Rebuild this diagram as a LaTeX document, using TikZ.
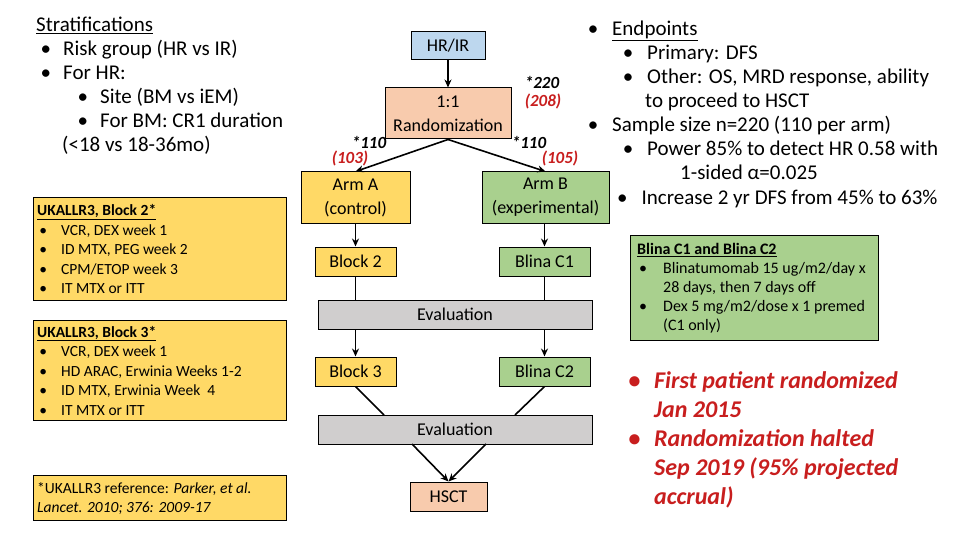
\documentclass[tikz,border=0pt]{standalone}
\usepackage{fontspec}
\setmainfont{Carlito}
\usepackage{enumitem}
\usetikzlibrary{arrows.meta}
\definecolor{cblue}{RGB}{189,215,238}
\definecolor{csalmon}{RGB}{248,203,173}
\definecolor{cyel}{RGB}{255,217,102}
\definecolor{cgreen}{RGB}{169,208,142}
\definecolor{cgray}{RGB}{208,206,206}
\definecolor{cred}{RGB}{200,30,30}
\setlist[itemize]{label=\textbullet,nosep,leftmargin=1.3em}
\begin{document}
\begin{tikzpicture}[x=1pt,y=-1pt,
  box/.style={draw=black,line width=1pt,align=center,font=\fontsize{18}{24}\selectfont,inner sep=0pt},
  arr/.style={-{Stealth[length=8pt,width=7pt]},line width=1.6pt},
  ln/.style={line width=1.6pt},
  num/.style={font=\fontsize{17}{19}\selectfont\bfseries\itshape},
  txt/.style={anchor=north west,align=left,inner sep=0pt}]
\useasboundingbox (0,0) rectangle (960,540);
% flow boxes
\node[box,fill=cblue,minimum width=74,minimum height=28] (hr) at (448,46) {HR/IR};
\node[box,fill=csalmon,minimum width=126,minimum height=51] (rand) at (448,113.5) {1:1\\Randomization};
\node[box,fill=cyel,minimum width=109,minimum height=51] (armA) at (355.5,197.5) {Arm A\\(control)};
\node[box,fill=cgreen,minimum width=127,minimum height=51] (armB) at (545.5,197.5) {Arm B\\(experimental)};
\node[box,fill=cyel,minimum width=81,minimum height=29] (b2) at (355.5,261.5) {Block 2};
\node[box,fill=cgreen,minimum width=91,minimum height=29] (c1) at (544.5,261.5) {Blina C1};
\node[box,fill=cgray,minimum width=274,minimum height=29] (ev1) at (455,314.5) {Evaluation};
\node[box,fill=cyel,minimum width=81,minimum height=29] (b3) at (355.5,371.5) {Block 3};
\node[box,fill=cgreen,minimum width=91,minimum height=29] (c2) at (544.5,371.5) {Blina C2};
\node[box,fill=cgray,minimum width=274,minimum height=29] (ev2) at (455,429.5) {Evaluation};
\node[box,fill=csalmon,minimum width=77,minimum height=29] (hsct) at (448.5,496.5) {HSCT};
% connectors
\draw[arr] (hr) -- (rand);
\draw[arr] (rand.south) -- (armA.north);
\draw[arr] (rand.south) -- (armB.north);
\draw[arr] (armA) -- (b2);
\draw[arr] (armB.south -| c1) -- (c1);
\draw[ln] (b2) -- (b2 |- ev1.north);
\draw[ln] (c1) -- (c1 |- ev1.north);
\draw[arr] (ev1.south -| b3) -- (b3);
\draw[arr] (ev1.south -| c2) -- (c2);
\coordinate (e2a) at (384,415); \coordinate (e2b) at (515,415);
\draw[ln] (b3.south) -- (e2a);
\draw[ln] (c2.south) -- (e2b);
\coordinate (e2c) at (412,444); \coordinate (e2d) at (486,444);
\draw[arr] (e2c) -- (hsct.north);
\draw[arr] (e2d) -- (hsct.north);
% numbers
\node[num] (n220) at (542,82) {*220};
\node[num,text=cred] (n208) at (543,101) {(208)};
\node[num] (n110a) at (369,142) {*110};
\node[num,text=cred] (n103) at (350,158) {(103)};
\node[num] (n110b) at (529,142) {*110};
\node[num,text=cred] (n105) at (560,158) {(105)};
% left texts
\node[txt,font=\fontsize{21}{24}\selectfont] (strat) at (36,17) {%
\begin{minipage}{280pt}
\underline{Stratifications}
\begin{itemize}[leftmargin=27pt,labelsep=12pt]
\item Risk group (HR vs IR)
\item For HR:
\begin{itemize}[leftmargin=37pt,labelsep=12pt]
\item Site (BM vs iEM)
\item For BM: CR1 duration\\\hspace*{-38pt}(<18 vs 18-36mo)
\end{itemize}
\end{itemize}
\end{minipage}};
\node[txt,draw,fill=cyel,minimum width=253,minimum height=103,inner sep=3pt,font=\fontsize{15.5}{19.5}\selectfont] (uk2) at (33,197) {%
\begin{minipage}{245pt}\vspace{1pt}
\textbf{\underline{UKALLR3, Block 2*}}
\begin{itemize}[leftmargin=24pt,labelsep=14pt]
\item VCR, DEX week 1
\item ID MTX, PEG week 2
\item CPM/ETOP week 3
\item IT MTX or ITT
\end{itemize}
\end{minipage}};
\node[txt,draw,fill=cyel,minimum width=253,minimum height=100,inner sep=3pt,font=\fontsize{15.5}{19.5}\selectfont] (uk3) at (33,320) {%
\begin{minipage}{245pt}\vspace{1pt}
\textbf{\underline{UKALLR3, Block 3*}}
\begin{itemize}[leftmargin=24pt,labelsep=14pt]
\item VCR, DEX week 1
\item HD ARAC, Erwinia Weeks 1-2
\item ID MTX, Erwinia Week \ 4
\item IT MTX or ITT
\end{itemize}
\end{minipage}};
\node[txt,draw,fill=cyel,minimum width=253,minimum height=45,inner sep=3pt,font=\fontsize{15.5}{19.5}\selectfont] (ref) at (33,475) {%
\begin{minipage}{245pt}\vspace{2pt}
*UKALLR3 reference: \textit{Parker, et al.}\\\textit{Lancet. 2010; 376: 2009-17}
\end{minipage}};
% right texts
\node[txt,font=\fontsize{21}{24}\selectfont] (endp) at (588,21) {%
\begin{minipage}{360pt}
\begin{itemize}[leftmargin=24pt,labelsep=14pt]
\item \underline{Endpoints}
\begin{itemize}[leftmargin=35pt,labelsep=14pt]
\item Primary: DFS
\item Other: OS, MRD response, ability\\\hspace*{-2pt}to proceed to HSCT
\end{itemize}
\item Sample size n=220 (110 per arm)
\begin{itemize}[leftmargin=35pt,labelsep=14pt]
\item Power 85\% to detect HR 0.58 with\\\hspace*{33pt}1-sided α=0.025
\end{itemize}
\end{itemize}
\end{minipage}};
\node[txt,font=\fontsize{21}{24}\selectfont] (incr) at (617,190) {\textbullet\hspace{14pt}Increase 2 yr DFS from 45\% to 63\%};
\node[txt,draw,fill=cgreen,minimum width=248,minimum height=105,inner sep=3pt,font=\fontsize{16}{19}\selectfont] (blina) at (630,235) {%
\begin{minipage}{240pt}\vspace{1pt}
\hspace*{3pt}\textbf{\underline{Blina C1 and Blina C2}}
\begin{itemize}[leftmargin=29pt,labelsep=16pt]
\item Blinatumomab 15 ug/m2/day x\\28 days, then 7 days off
\item Dex 5 mg/m2/dose x 1 premed\\(C1 only)
\end{itemize}
\end{minipage}};
\node[txt,text=cred,font=\fontsize{24}{29}\selectfont\bfseries\itshape] (red) at (628,371) {%
\begin{minipage}{320pt}
\begin{itemize}[leftmargin=26pt,labelsep=14pt]
\item First patient randomized\\Jan 2015
\item Randomization halted\\Sep 2019 (95\% projected\\accrual)
\end{itemize}
\end{minipage}};
\end{tikzpicture}
\end{document}
